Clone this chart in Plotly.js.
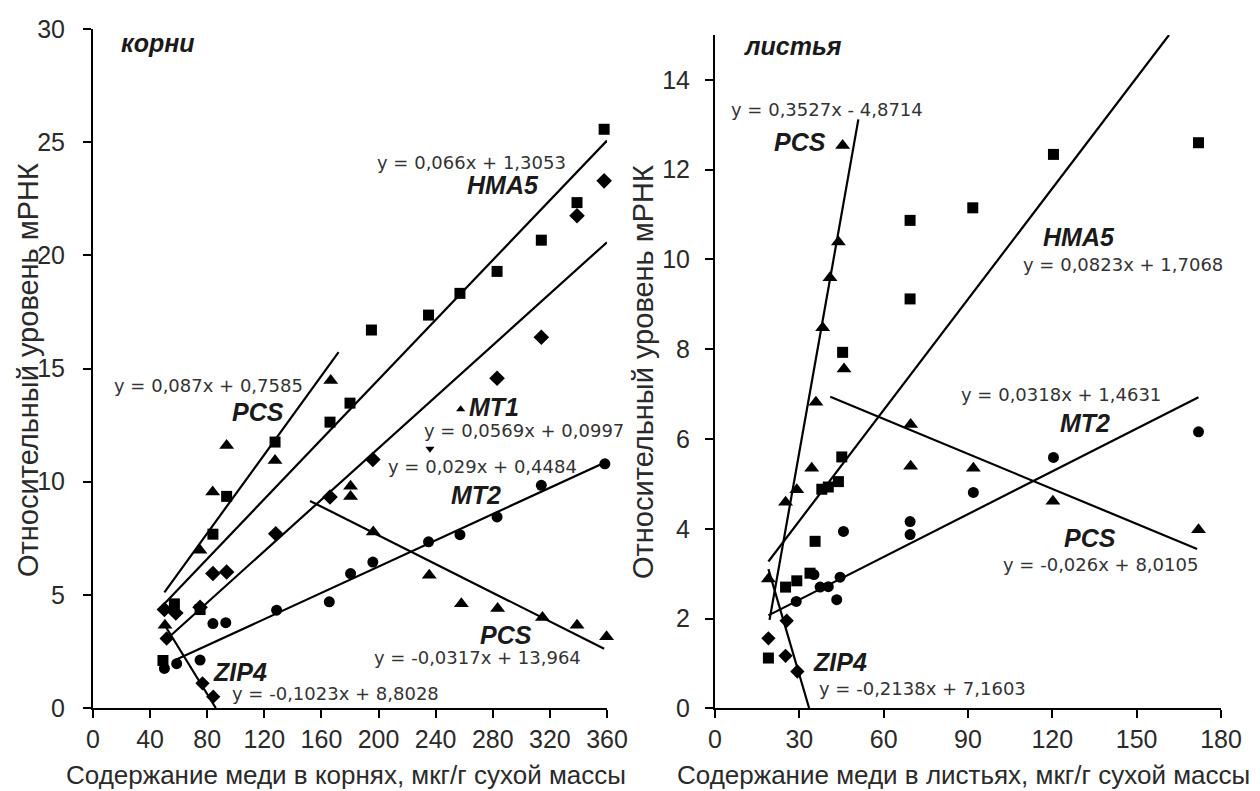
<!DOCTYPE html>
<html>
<head>
<meta charset="utf-8">
<script src="https://cdn.plot.ly/plotly-3.0.1.min.js"></script>
<style>
  html, body { margin: 0; padding: 0; background: #ffffff; }
  #chart { width: 1260px; height: 791px; }
</style>
</head>
<body>
<div id="chart"></div>
<script>
// ---------- Roots (корни) ----------
const rootsHMA5X = [49, 57, 75, 84, 93.6, 127.5, 166, 180, 195, 235, 257, 283, 314, 339, 358];
const rootsHMA5Y = [2.1, 4.6, 4.35, 7.68, 9.35, 11.75, 12.63, 13.47, 16.7, 17.36, 18.32, 19.29, 20.67, 22.33, 25.57];

const rootsMT1X = [50, 58, 75, 84, 93.6, 128, 166, 196, 283, 314, 339, 358];
const rootsMT1Y = [4.35, 4.2, 4.45, 5.94, 6.01, 7.7, 9.32, 10.98, 14.57, 16.38, 21.75, 23.29];

const rootsMT2X = [50, 58.6, 75, 84, 93, 128.6, 165.5, 180.4, 196, 235, 257, 283, 314, 358.5];
const rootsMT2Y = [1.75, 1.96, 2.12, 3.73, 3.77, 4.32, 4.69, 5.94, 6.45, 7.34, 7.66, 8.44, 9.84, 10.79];

const rootsZIP4X = [51.6, 76.7, 84.2];
const rootsZIP4Y = [3.07, 1.09, 0.5];

const rootsPCSX = [50.4, 74.9, 83.8, 93.6, 127.5, 166.5, 180.4, 180.4, 196.3, 235.5, 258, 283.4, 314.8, 339, 359.7];
const rootsPCSY = [3.66, 6.97, 9.54, 11.6, 10.94, 14.47, 9.8, 9.35, 7.78, 5.87, 4.61, 4.4, 4.0, 3.66, 3.15];

const rootsExtraX = [257.5, 236];
const rootsExtraY = [13.2, 11.45];
const rootsExtraSymbols = ['triangle-up', 'triangle-down'];

// trend line end points (roots)
const rootsLinePCSupX = [50, 172],  rootsLinePCSupY = [5.11, 15.72];
const rootsLineHMA5X = [50, 360],   rootsLineHMA5Y = [4.61, 25.07];
const rootsLineMT1X = [50, 360],    rootsLineMT1Y = [2.95, 20.58];
const rootsLineMT2X = [58, 360],    rootsLineMT2Y = [2.13, 10.89];
const rootsLinePCSdnX = [152, 358], rootsLinePCSdnY = [9.15, 2.62];
const rootsLineZIP4X = [50, 86],    rootsLineZIP4Y = [3.69, 0];

// ---------- Leaves (листья) ----------
const leavesHMA5X = [19, 25.1, 29.1, 33.8, 35.6, 38, 40.3, 43.9, 45.1, 45.4, 69.4, 69.4, 91.7, 120.4, 172];
const leavesHMA5Y = [1.12, 2.7, 2.84, 3.01, 3.72, 4.88, 4.93, 5.05, 5.6, 7.93, 10.87, 9.12, 11.15, 12.34, 12.6];

const leavesPCSX = [19, 25.1, 29.1, 34.4, 35.9, 38.3, 40.9, 43.9, 45.4, 45.9, 69.6, 69.6, 91.9, 120.2, 172];
const leavesPCSY = [2.88, 4.59, 4.87, 5.35, 6.82, 8.48, 9.59, 10.39, 12.54, 7.56, 6.32, 5.39, 5.35, 4.61, 3.98];

const leavesMT2X = [28.9, 35.2, 37.4, 40.3, 43.3, 44.5, 45.7, 69.4, 69.4, 91.9, 120.4, 172];
const leavesMT2Y = [2.38, 2.98, 2.7, 2.71, 2.42, 2.92, 3.94, 4.16, 3.87, 4.81, 5.59, 6.16];

const leavesZIP4X = [19, 25.5, 25.1, 29.3];
const leavesZIP4Y = [1.56, 1.95, 1.17, 0.82];

// trend line end points (leaves)
const leavesLinePCSupX = [19.4, 51],   leavesLinePCSupY = [1.97, 13.12];
const leavesLineHMA5X = [19, 161.5],   leavesLineHMA5Y = [3.27, 15.0];
const leavesLineMT2X = [19, 172],      leavesLineMT2Y = [2.07, 6.93];
const leavesLinePCSdnX = [41, 171.5],  leavesLinePCSdnY = [6.94, 3.55];
const leavesLineZIP4X = [19, 33.5],    leavesLineZIP4Y = [3.10, 0];

// ---------- Text ----------
const panelLabels = ['корни', 'листья'];
const yTitle = 'Относительный уровень мРНК';
const xTitleRoots = 'Содержание меди в корнях, мкг/г сухой массы';
const xTitleLeaves = 'Содержание меди в листьях, мкг/г сухой массы';

const rootsEqTexts = ['y = 0,066x + 1,3053', 'y = 0,087x + 0,7585', 'y = 0,0569x + 0,0997',
                      'y = 0,029x + 0,4484', 'y = -0,0317x + 13,964', 'y = -0,1023x + 8,8028'];
const rootsEqX = [265.4, 81.2, 301.8, 273.1, 269.6, 169.5];
const rootsEqY = [24.08, 14.27, 12.28, 10.65, 2.21, 0.66];

const rootsGeneTexts = ['HMA5', 'PCS', 'MT1', 'MT2', 'PCS', 'ZIP4'];
const rootsGeneX = [287, 115.5, 281, 268.2, 289.2, 103];
const rootsGeneY = [23.1, 13.08, 13.3, 9.41, 3.23, 1.59];

const leavesEqTexts = ['y = 0,3527x - 4,8714', 'y = 0,0823x + 1,7068', 'y = 0,0318x + 1,4631',
                       'y = -0,026x + 8,0105', 'y = -0,2138x + 7,1603'];
const leavesEqX = [39.9, 145.2, 123.1, 137, 73.7];
const leavesEqY = [13.35, 9.89, 6.99, 3.20, 0.45];

const leavesGeneTexts = ['PCS', 'HMA5', 'MT2', 'PCS', 'ZIP4'];
const leavesGeneX = [30.2, 129.5, 131.7, 133.5, 44.5];
const leavesGeneY = [12.61, 10.49, 6.36, 3.80, 1.03];

// ---------- Build ----------
const BLACK = '#000000';
function pts(x, y, symbol, size, xa, ya) {
  return { x, y, xaxis: xa, yaxis: ya, type: 'scatter', mode: 'markers', showlegend: false,
           hoverinfo: 'skip', cliponaxis: false,
           marker: { symbol, size, color: BLACK, line: { width: 0 } } };
}
function line(x, y, xa, ya) {
  return { x, y, xaxis: xa, yaxis: ya, type: 'scatter', mode: 'lines', showlegend: false,
           hoverinfo: 'skip', line: { color: BLACK, width: 2.2 } };
}

const traces = [
  line(rootsLinePCSupX, rootsLinePCSupY, 'x', 'y'),
  line(rootsLineHMA5X, rootsLineHMA5Y, 'x', 'y'),
  line(rootsLineMT1X, rootsLineMT1Y, 'x', 'y'),
  line(rootsLineMT2X, rootsLineMT2Y, 'x', 'y'),
  line(rootsLinePCSdnX, rootsLinePCSdnY, 'x', 'y'),
  line(rootsLineZIP4X, rootsLineZIP4Y, 'x', 'y'),
  pts(rootsHMA5X, rootsHMA5Y, 'square', 11, 'x', 'y'),
  pts(rootsMT1X, rootsMT1Y, 'diamond', 12, 'x', 'y'),
  pts(rootsMT2X, rootsMT2Y, 'circle', 11, 'x', 'y'),
  pts(rootsZIP4X, rootsZIP4Y, 'diamond', 11, 'x', 'y'),
  pts(rootsPCSX, rootsPCSY, 'triangle-up', 13, 'x', 'y'),
  { x: rootsExtraX, y: rootsExtraY, xaxis: 'x', yaxis: 'y', type: 'scatter', mode: 'markers',
    showlegend: false, hoverinfo: 'skip',
    marker: { symbol: rootsExtraSymbols, size: 8, color: BLACK } },

  line(leavesLinePCSupX, leavesLinePCSupY, 'x2', 'y2'),
  line(leavesLineHMA5X, leavesLineHMA5Y, 'x2', 'y2'),
  line(leavesLineMT2X, leavesLineMT2Y, 'x2', 'y2'),
  line(leavesLinePCSdnX, leavesLinePCSdnY, 'x2', 'y2'),
  line(leavesLineZIP4X, leavesLineZIP4Y, 'x2', 'y2'),
  pts(leavesHMA5X, leavesHMA5Y, 'square', 11, 'x2', 'y2'),
  pts(leavesMT2X, leavesMT2Y, 'circle', 11, 'x2', 'y2'),
  pts(leavesZIP4X, leavesZIP4Y, 'diamond', 11, 'x2', 'y2'),
  pts(leavesPCSX, leavesPCSY, 'triangle-up', 13, 'x2', 'y2')
];

const tickFont = { family: 'Liberation Sans, Arial, sans-serif', size: 25, color: '#2a2a2a' };
const eqFont = { family: 'DejaVu Sans, sans-serif', size: 18, color: '#333333' };
const geneFont = { family: 'Liberation Sans, Arial, sans-serif', size: 25, color: '#1a1a1a', weight: 'bold', style: 'italic' };
const xTitleFont = { family: 'Liberation Sans, Arial, sans-serif', size: 26, color: '#2a2a2a' };
const yTitleFont = { family: 'Liberation Sans, Arial, sans-serif', size: 29, color: '#2a2a2a' };

const annotations = [];
function addText(texts, xs, ys, xref, yref, font) {
  texts.forEach((t, i) => annotations.push({ text: t, x: xs[i], y: ys[i], xref, yref,
    showarrow: false, xanchor: 'center', yanchor: 'middle', font }));
}
addText(rootsEqTexts, rootsEqX, rootsEqY, 'x', 'y', eqFont);
addText(rootsGeneTexts, rootsGeneX, rootsGeneY, 'x', 'y', geneFont);
addText(leavesEqTexts, leavesEqX, leavesEqY, 'x2', 'y2', eqFont);
addText(leavesGeneTexts, leavesGeneX, leavesGeneY, 'x2', 'y2', geneFont);
annotations.push({ text: panelLabels[0], x: 45.5, y: 29.4, xref: 'x', yref: 'y', showarrow: false,
  xanchor: 'center', yanchor: 'middle', font: geneFont });
annotations.push({ text: panelLabels[1], x: 27.8, y: 14.75, xref: 'x2', yref: 'y2', showarrow: false,
  xanchor: 'center', yanchor: 'middle', font: geneFont });
// axis titles
annotations.push({ text: xTitleRoots, x: 346 / 1260, y: 1 - 775 / 791, xref: 'paper', yref: 'paper',
  showarrow: false, xanchor: 'center', yanchor: 'middle', font: xTitleFont });
annotations.push({ text: xTitleLeaves, x: 964 / 1260, y: 1 - 775 / 791, xref: 'paper', yref: 'paper',
  showarrow: false, xanchor: 'center', yanchor: 'middle', font: xTitleFont });
annotations.push({ text: yTitle, x: 28 / 1260, y: 1 - 370 / 791, xref: 'paper', yref: 'paper',
  showarrow: false, xanchor: 'center', yanchor: 'middle', textangle: -90, font: yTitleFont });
annotations.push({ text: yTitle, x: 643 / 1260, y: 1 - 372 / 791, xref: 'paper', yref: 'paper',
  showarrow: false, xanchor: 'center', yanchor: 'middle', textangle: -90, font: yTitleFont });

const axisCommon = {
  showline: true, linecolor: BLACK, linewidth: 2, mirror: false,
  ticks: 'outside', ticklen: 8, tickwidth: 2, tickcolor: BLACK,
  showgrid: false, zeroline: false, tickfont: tickFont, fixedrange: true
};

const layout = {
  width: 1260, height: 791,
  margin: { l: 0, r: 0, t: 0, b: 0 },
  paper_bgcolor: '#ffffff', plot_bgcolor: '#ffffff',
  showlegend: false,
  xaxis: Object.assign({}, axisCommon, { domain: [93 / 1260, 607 / 1260], range: [0, 360],
    tick0: 0, dtick: 40, anchor: 'y' }),
  yaxis: Object.assign({}, axisCommon, { domain: [1 - 708 / 791, 1 - 29 / 791], range: [0, 30],
    tick0: 0, dtick: 5, anchor: 'x', ticklabelstandoff: 13 }),
  xaxis2: Object.assign({}, axisCommon, { domain: [715 / 1260, 1221 / 1260], range: [0, 180],
    tick0: 0, dtick: 30, anchor: 'y2' }),
  yaxis2: Object.assign({}, axisCommon, { domain: [1 - 708.3 / 791, 1 - 35 / 791], range: [0, 15],
    tick0: 0, dtick: 2, anchor: 'x2', ticklabelstandoff: 10 }),
  annotations
};

Plotly.newPlot('chart', traces, layout, { staticPlot: true, displayModeBar: false });
</script>
</body>
</html>
